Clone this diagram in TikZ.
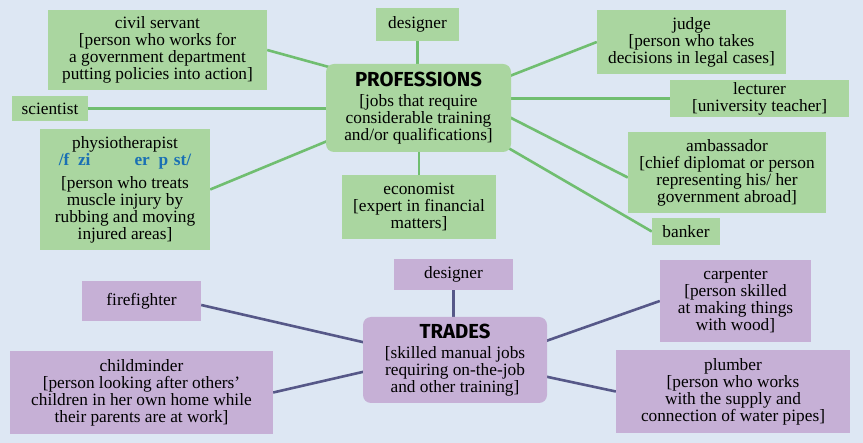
\documentclass[tikz,border=0pt]{standalone}
\usepackage{fontspec}
\setmainfont{Liberation Serif}
\newfontfamily\headfont{Fira Sans}
\usetikzlibrary{backgrounds}
\definecolor{bgblue}{RGB}{221,231,243}
\definecolor{profgreen}{RGB}{170,214,160}
\definecolor{proflink}{RGB}{112,190,112}
\definecolor{tradepurple}{RGB}{198,176,214}
\definecolor{tradelink}{RGB}{86,88,136}
\definecolor{ipablue}{RGB}{26,112,180}

\begin{document}
\begin{tikzpicture}[x=1pt,y=-1pt,font=\fontsize{17.3}{17}\selectfont,
  box/.style={inner sep=0pt,align=center},
  prof/.style={box,fill=profgreen},
  trade/.style={box,fill=tradepurple},
  hub/.style={rounded corners=8pt},
  plink/.style={proflink,line width=2.6pt},
  tlink/.style={tradelink,line width=2.6pt}]
\useasboundingbox (0,0) rectangle (863,443);
% professions
\node[prof,hub,minimum width=185pt,minimum height=88pt] (prof) at (418.5,108)
  {{\headfont\bfseries\fontsize{20.3}{20}\selectfont PROFESSIONS}\\[3pt]
   {[}jobs that require\\considerable training\\and/or qualifications]};
\node[prof,minimum width=219pt,minimum height=80pt] (civil) at (157.5,50)
  {civil servant\\{[}person who works for\\a government department\\putting policies into action]};
\node[prof,minimum width=76pt,minimum height=25pt] (sci) at (50,108.5) {scientist};
\node[prof,minimum width=170pt,minimum height=121pt] (physio) at (125,189.5)
  {physiotherapist\\{\color{ipablue}\bfseries/f\,\,\,zi\hspace{44pt}er\,\,\,p\,\,st/}\\[6pt]
   {[}person who treats\\muscle injury by\\rubbing and moving\\injured areas]};
\node[prof,minimum width=83pt,minimum height=33pt] (des1) at (417.5,24.5) {designer};
\node[prof,minimum width=154pt,minimum height=64pt] (econ) at (419,207)
  {economist\\{[}expert in financial\\matters]};
\node[prof,minimum width=189pt,minimum height=64pt] (judge) at (691.5,42)
  {judge\\{[}person who takes\\decisions in legal cases]};
\node[prof,minimum width=179pt,minimum height=37pt] (lect) at (759.5,98.5)
  {lecturer\\{[}university teacher]};
\node[prof,minimum width=198pt,minimum height=81pt] (amb) at (727,172.5)
  {ambassador\\{[}chief diplomat or person\\representing his/ her\\government abroad]};
\node[prof,minimum width=68pt,minimum height=27pt] (bank) at (686,231.5) {banker};
% trades
\node[trade,hub,minimum width=184pt,minimum height=86pt] (trades) at (455,360)
  {{\headfont\bfseries\fontsize{20.3}{20}\selectfont TRADES}\\[3pt]
   {[}skilled manual jobs\\requiring on-the-job\\and other training]};
\node[trade,minimum width=119pt,minimum height=31pt] (des2) at (453.5,274.5) {designer};
\node[trade,minimum width=119pt,minimum height=40pt] (fire) at (141.5,301) {firefighter};
\node[trade,minimum width=263pt,minimum height=83pt] (child) at (141.5,392.5)
  {childminder\\{[}person looking after others'\\children in her own home while\\their parents are at work]};
\node[trade,minimum width=151pt,minimum height=82pt] (carp) at (735.5,301)
  {carpenter\\{[}person skilled\\at making things\\with wood]};
\node[trade,minimum width=234pt,minimum height=83pt] (plumb) at (733,391.5)
  {plumber\\{[}person who works\\with the supply and\\connection of water pipes]};
\begin{scope}[on background layer]
\fill[bgblue] (0,0) rectangle (863,443);
\draw[plink] (civil.east) -- ([shift={(6,4)}]prof.north west);
\draw[plink] (sci.east) -- (sci.east -| prof.center);
\draw[plink] (physio.east) -- ([shift={(4,32)}]prof.west);
\draw[plink] (des1.south) -- (des1.south |- prof.center);
\draw[plink] (judge.west) -- ([shift={(-4,-31)}]prof.east);
\draw[plink] (lect.west) -- (lect.west -| prof.center);
\draw[plink] ([shift={(0,5)}]amb.west) -- ([shift={(-4,8)}]prof.east);
\draw[plink] (bank.west) -- ([shift={(-6,-6)}]prof.south east);
\draw[plink] (econ.north) -- (econ.north |- prof.center);
\draw[tlink] (des2.south) -- (des2.south |- trades.center);
\draw[tlink] ([shift={(0,4)}]fire.east) -- ([shift={(4,-17)}]trades.west);
\draw[tlink] (child.east) -- ([shift={(4,11)}]trades.west);
\draw[tlink] (carp.west) -- ([shift={(-4,-18)}]trades.east);
\draw[tlink] (plumb.west) -- ([shift={(-4,16)}]trades.east);
\end{scope}
\end{tikzpicture}
\end{document}
